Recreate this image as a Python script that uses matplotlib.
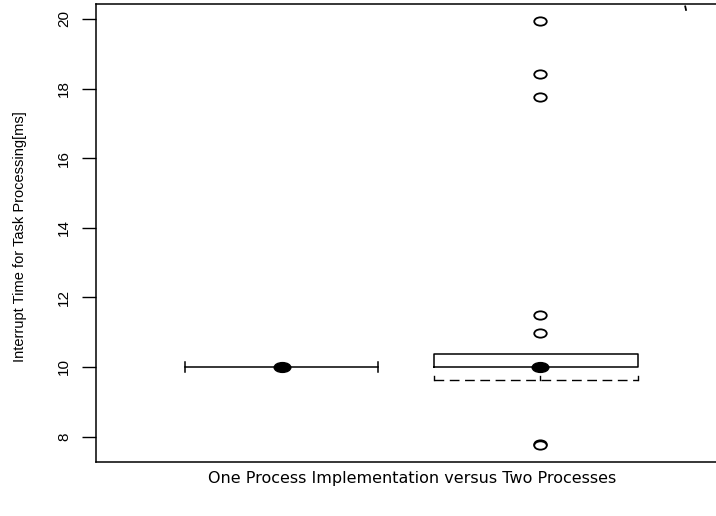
import matplotlib
matplotlib.use("Agg")
import matplotlib.pyplot as plt
import numpy as np
from matplotlib.path import Path

# ---- data ----
groups = [1, 2]
medians = [10.0, 10.0]
box_low = [10.0, 10.0]
box_high = [10.0, 10.37]
whisker_low = [10.0, 9.63]
outliers_g2 = [19.93, 18.42, 17.77, 11.5, 10.98, 7.8, 7.76]
yticks = [8, 10, 12, 14, 16, 18, 20]
ylabel = "Interrupt Time for Task Processing[ms]"
xlabel = "One Process Implementation versus Two Processes"

narrow = ["Liberation Sans Narrow", "Liberation Sans", "DejaVu Sans"]

fig = plt.figure(figsize=(7.16, 5.16), dpi=100)
ax = fig.add_axes([96/716, 1-462/516, 1-96/716+0.002, (462-4)/516])

def ellipse_marker(sx):
    c = Path.unit_circle()
    v = c.vertices.copy()
    v[:, 0] *= sx
    return Path(v, c.codes)

dot = ellipse_marker(1.7)
ring = ellipse_marker(1.5)

# group 1: whiskers-only line with end caps
ax.plot([groups[0]-0.374, groups[0]+0.374], [medians[0], medians[0]], color="black", lw=1.1)
for xe in (groups[0]-0.374, groups[0]+0.374):
    ax.plot([xe, xe], [medians[0]-0.14, medians[0]+0.14], color="black", lw=1.1)
ax.plot([groups[0]], [medians[0]], marker=dot, markersize=12, color="black", ls="none")

# group 2: box
g = groups[1]
xl, xr = g - 0.408, g + 0.38
ax.plot([xl, xr, xr, xl, xl], [box_low[1], box_low[1], box_high[1], box_high[1], box_low[1]],
        color="black", lw=1.1)
ax.plot([g], [medians[1]], marker=dot, markersize=12, color="black", ls="none")
# dashed lower line with small upturned ticks
ax.plot([xl, xr], [whisker_low[1], whisker_low[1]], color="black", lw=1.0, dashes=(7, 4))
for xe in (xl, g, xr):
    ax.plot([xe, xe], [whisker_low[1], whisker_low[1]+0.12], color="black", lw=1.0)
# outliers
ax.plot([g]*len(outliers_g2), outliers_g2, marker=ring, markersize=9, ls="none",
        markerfacecolor="white", markeredgecolor="black", markeredgewidth=1.3)
# small stray mark near the top right
ax.plot([2.565, 2.568], [20.36, 20.26], color="black", lw=1.3)

ax.set_xlim(1 - 186/258, 2 + 178/258)
ax.set_ylim(7.27, 20.43)
ax.set_xticks([])
ax.set_yticks(yticks)
ax.set_yticklabels([str(t) for t in yticks], rotation=90, va="center",
                   family=narrow, fontsize=11)
ax.tick_params(axis="y", length=10, width=1.0, pad=8)
ax.spines["right"].set_visible(False)
for s in ("left", "top", "bottom"):
    ax.spines[s].set_linewidth(1.1)

fig.text(20/716, 1-237/516, ylabel, rotation=90, ha="center", va="center",
         family=narrow, fontsize=10.5)
fig.text(412/716, 1-478/516, xlabel, ha="center", va="center",
         family=["DejaVu Sans"], fontsize=11.5)

fig.savefig("out.png", dpi=100)
